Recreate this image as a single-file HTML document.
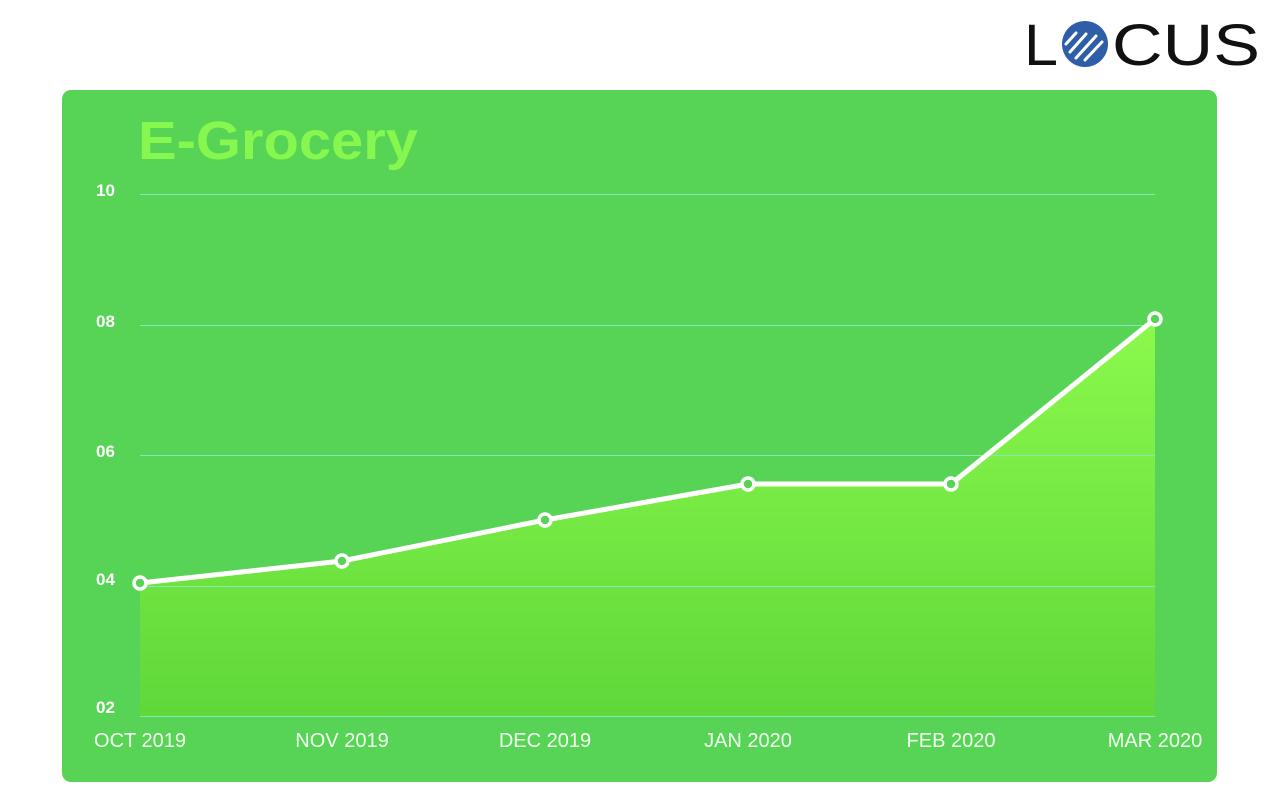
<!DOCTYPE html>
<html><head><style>
html,body{margin:0;padding:0;background:#fff;width:1280px;height:800px;overflow:hidden}
</style></head><body>
<svg width="1280" height="800" xmlns="http://www.w3.org/2000/svg" style="position:absolute;left:0;top:0">
<defs>
<linearGradient id="g" x1="0" y1="0" x2="0" y2="1">
<stop offset="0" stop-color="#8cf94c"/><stop offset="1" stop-color="#5fd83a"/>
</linearGradient>
</defs>
<!-- logo -->
<text x="1024" y="65" font-family="Liberation Sans, sans-serif" font-size="58" fill="#111" textLength="34" lengthAdjust="spacingAndGlyphs">L</text>
<circle cx="1085" cy="44" r="23" fill="#2f5ea8"/>
<g stroke="#fff" stroke-width="3" stroke-linecap="round">
<line x1="1070" y1="52" x2="1086" y2="34"/><line x1="1076" y1="58" x2="1096" y2="36"/><line x1="1085" y1="60" x2="1102" y2="42"/><line x1="1066" y1="44" x2="1076" y2="33"/>
</g>
<text x="1112" y="65" font-family="Liberation Sans, sans-serif" font-size="58" fill="#111" textLength="148" lengthAdjust="spacingAndGlyphs">CUS</text>
<!-- card -->
<rect x="62" y="90" width="1155" height="692" rx="9" fill="#57d455"/>
<text x="138" y="159" font-family="Liberation Sans, sans-serif" font-weight="bold" font-size="54" fill="#86f74f" textLength="280" lengthAdjust="spacingAndGlyphs">E-Grocery</text>
<path d="M140,583 L342,561 L545,520 L748,484 L951,484 L1155,319 L1155,716 L140,716 Z" fill="url(#g)"/>
<g stroke="#86e6b8" stroke-width="1">
<line x1="140" y1="194.5" x2="1155" y2="194.5"/><line x1="140" y1="325.5" x2="1155" y2="325.5"/><line x1="140" y1="455.5" x2="1155" y2="455.5"/><line x1="140" y1="586.5" x2="1155" y2="586.5"/><line x1="140" y1="716.5" x2="1155" y2="716.5"/>
</g>
<g font-family="Liberation Sans, sans-serif" font-weight="bold" font-size="17" fill="#fff">
<text x="96" y="196">10</text><text x="96" y="327">08</text><text x="96" y="457">06</text><text x="96" y="585">04</text><text x="96" y="713">02</text>
</g>
<g font-family="Liberation Sans, sans-serif" font-size="20" fill="#f2fff0" text-anchor="middle">
<text x="140" y="747">OCT 2019</text><text x="342" y="747">NOV 2019</text><text x="545" y="747">DEC 2019</text><text x="748" y="747">JAN 2020</text><text x="951" y="747">FEB 2020</text><text x="1155" y="747">MAR 2020</text>
</g>
<polyline points="140,583 342,561 545,520 748,484 951,484 1155,319" fill="none" stroke="#fff" stroke-width="5" stroke-linejoin="round"/>
<g fill="#57d455" stroke="#fff" stroke-width="3.5">
<circle cx="140" cy="583" r="6"/><circle cx="342" cy="561" r="6"/><circle cx="545" cy="520" r="6"/><circle cx="748" cy="484" r="6"/><circle cx="951" cy="484" r="6"/><circle cx="1155" cy="319" r="6"/>
</g>
</svg>
</body></html>
